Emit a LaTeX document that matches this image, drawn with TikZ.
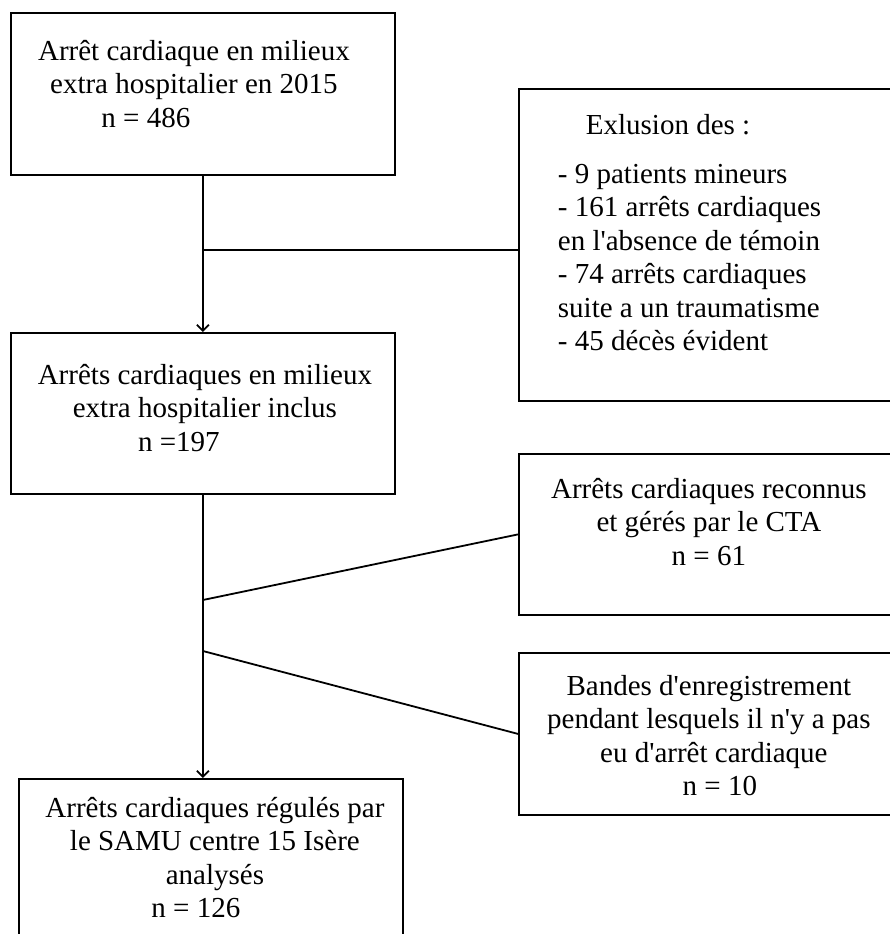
\documentclass[tikz,border=0pt]{standalone}
\usepackage{fontspec}
\setmainfont{Liberation Serif}[Ligatures=TeXOff]
\usetikzlibrary{positioning,arrows.meta}

\tikzset{
  box/.style={draw, rectangle, inner sep=0pt, anchor=north west},
  txt/.style={font=\fontsize{29}{33.5}\selectfont, inner sep=0pt, align=center},
  arr/.style={-{Straight Barb[length=6pt,width=12pt]}},
}

\begin{document}
\begin{tikzpicture}[x=1pt, y=-1pt, line width=1.8pt]
  \useasboundingbox (0,0) rectangle (890,934);
  \clip (0,0) rectangle (890,934);
  % boxes
  \node[box, minimum width=384pt, minimum height=162pt] (start) at (10,12) {};
  \node[box, minimum width=384pt, minimum height=161pt] (incl) at (10,332) {};
  \node[box, minimum width=384pt, minimum height=172pt] (final) at (18,778) {};
  \node[box, minimum width=382pt, minimum height=312pt] (excl) at (518,88) {};
  \node[box, minimum width=380pt, minimum height=161pt] (cta) at (518,453) {};
  \node[box, minimum width=380pt, minimum height=162pt] (bandes) at (518,652) {};
  % texts
  \node[txt, below=27pt of start.north, xshift=-9pt] (starttxt)
    {Arrêt cardiaque en milieux\\extra hospitalier en 2015\\n = 486\hspace*{96pt}};
  \node[txt, below=31pt of incl.north, xshift=2pt] (incltxt)
    {Arrêts cardiaques en milieux\\extra hospitalier inclus\\n =197\hspace*{52pt}};
  \node[txt, below=18pt of final.north, xshift=4pt] (finaltxt)
    {Arrêts cardiaques régulés par\\le SAMU centre 15 Isère\\analysés\hspace*{40pt}\\n = 126\hspace*{38pt}};
  \node[txt, align=left, anchor=north west, below right=25pt and 39pt of excl.north west] (excltxt)
    {\hspace*{28pt}Exlusion des :\\[15.5pt]- 9 patients mineurs\\- 161 arrêts cardiaques\\en l'absence de témoin\\- 74 arrêts cardiaques\\suite a un traumatisme\\- 45 décès évident};
  \node[txt, below=24pt of cta.north] (ctatxt)
    {Arrêts cardiaques reconnus\\et gérés par le CTA\\n = 61};
  \node[txt, below=22pt of bandes.north] (bandestxt)
    {Bandes d'enregistrement\\pendant lesquels il n'y a pas\\\hspace*{10pt}eu d'arrêt cardiaque\\\hspace*{22pt}n = 10};
  % connectors
  \coordinate (j1) at (start.south |- 0,250);
  \coordinate (j2) at (incl.south |- 0,600);
  \coordinate (j3) at (incl.south |- 0,651);
  \draw[arr] (start.south) -- (start.south |- incl.north);
  \draw (j1) -- (j1 -| excl.west);
  \draw[arr] (incl.south) -- (incl.south |- final.north);
  \draw (j2) -- (cta.west);
  \draw (j3) -- (bandes.west);
\end{tikzpicture}
\end{document}
